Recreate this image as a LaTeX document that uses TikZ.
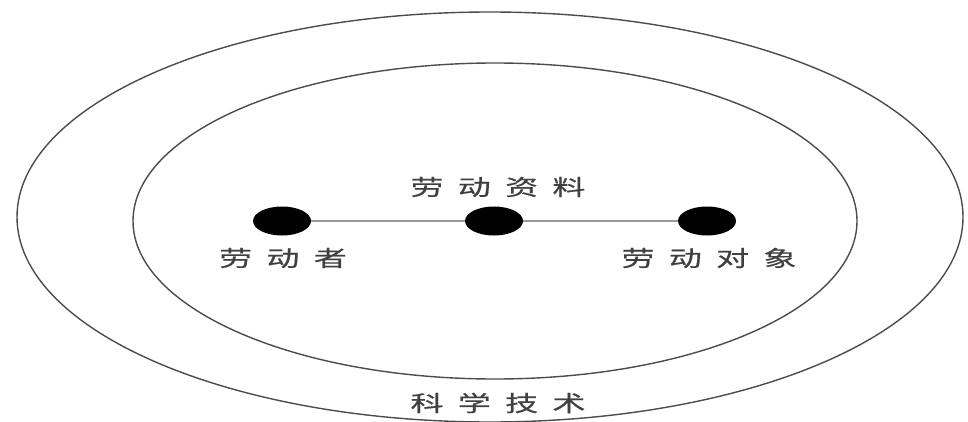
\documentclass[tikz,border=0pt]{standalone}
\usepackage{fontspec}
\newfontfamily\cjk[FakeStretch=1.5, LetterSpace=65, FakeBold=0.6]{Noto Sans CJK SC}
\usetikzlibrary{shapes.geometric,positioning}

\begin{document}
\begin{tikzpicture}[x=1pt, y=-1pt,
    every node/.style={font=\cjk\fontsize{22}{22}\selectfont, text=black!75},
    dot/.style={ellipse, fill=black, minimum width=58pt, minimum height=29pt, inner sep=0pt},
    ring/.style={draw=black!70, line width=1.4pt}]
  \useasboundingbox (0,0) rectangle (968,422);
  % outer ring and inner ring
  \draw[ring] (490,217) ellipse [x radius=473pt, y radius=205pt];
  \draw[ring] (495,221) ellipse [x radius=362pt, y radius=158pt];
  % the three elements
  \node[dot] (worker) at (282,221) {};
  \node[dot] (means) at (494,221) {};
  \node[dot] (object) at (707,221) {};
  \draw[black!40, line width=1.2pt] (worker) -- (means) -- (object);
  % labels
  \node (meansLabel) at (498,187) {劳动资料};
  \node (workerLabel) at (283,258) {劳动者};
  \node (objectLabel) at (709,258) {劳动对象};
  \node (techLabel) at (498,403) {科学技术};
\end{tikzpicture}
\end{document}
